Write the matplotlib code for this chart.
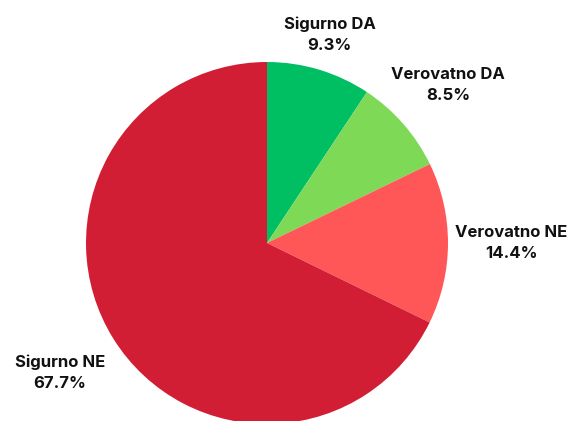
import numpy as np
import matplotlib
matplotlib.use("Agg")
import matplotlib.pyplot as plt

labels = ["Sigurno DA", "Verovatno DA", "Verovatno NE", "Sigurno NE"]
values = [9.3, 8.5, 14.4, 67.7]
colors = ["#00BF63", "#7ED957", "#FF5757", "#D21E35"]
label_dist = [1.2, 1.33, 1.35, 1.35]

W, H = 583, 421
fig = plt.figure(figsize=(W / 100, H / 100), dpi=100)
ax = fig.add_axes([0, 0, 1, 1])

cx, cy, r = 267, H - 243, 181
wedges, _ = ax.pie(values, colors=colors, startangle=90, counterclock=False,
                   radius=r, center=(cx, cy), frame=True,
                   wedgeprops=dict(linewidth=0))
ax.set_xlim(0, W)
ax.set_ylim(0, H)
ax.set_aspect("equal")
ax.axis("off")

# labels around the pie
for w, lab, v, d in zip(wedges, labels, values, label_dist):
    ang = np.deg2rad((w.theta1 + w.theta2) / 2)
    x = cx + d * r * np.cos(ang)
    y = cy + d * r * np.sin(ang)
    ax.text(x, y, f"{lab}\n{v}%", ha="center", va="center",
            fontsize=12, fontweight="bold", family="Inter",
            color="#111111", linespacing=1.5)

plt.savefig("out.png", dpi=100)
